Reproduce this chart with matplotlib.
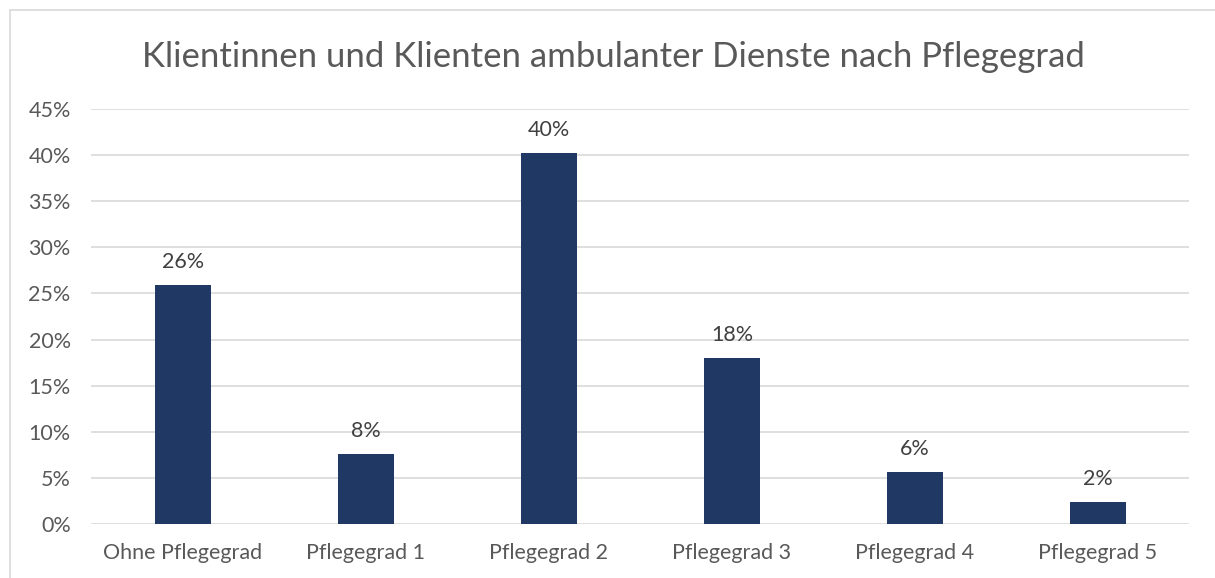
import matplotlib.pyplot as plt
import numpy as np
from matplotlib.patches import Rectangle
from matplotlib.ticker import PercentFormatter

# Daten
kategorien = ['Ohne Pflegegrad', 'Pflegegrad 1', 'Pflegegrad 2', 'Pflegegrad 3', 'Pflegegrad 4', 'Pflegegrad 5']
anteile = [0.259, 0.076, 0.402, 0.180, 0.056, 0.024]
titel = 'Klientinnen und Klienten ambulanter Dienste nach Pflegegrad'

plt.rcParams['font.family'] = ['Lato', 'DejaVu Sans']
grau = '#595959'

fig = plt.figure(figsize=(12.15, 5.78), dpi=100)
ax = fig.add_axes([0.0753, 0.0934, 0.9037, 0.718])

# Rahmen um das Diagramm
fig.patches.append(Rectangle((10 / 1215, -0.05), 1.1, (568 / 578) + 0.05,
                             transform=fig.transFigure, fill=False,
                             edgecolor='#d9d9d9', linewidth=1.2))

x = np.arange(len(kategorien))
bars = ax.bar(x, anteile, width=0.31, color='#203864', zorder=3)
for b, v in zip(bars, anteile):
    ax.text(b.get_x() + b.get_width() / 2, v + 0.014, f'{v:.0%}',
            ha='center', va='bottom', fontsize=15.5, color='#404040')

ax.set_xlim(-0.5, len(kategorien) - 0.5)
ax.set_ylim(0, 0.45)
ax.set_yticks(np.arange(0, 0.451, 0.05))
ax.yaxis.set_major_formatter(PercentFormatter(1.0, decimals=0))
ax.set_xticks(x)
ax.set_xticklabels(kategorien)
ax.grid(axis='y', color='#d9d9d9', linewidth=1.2, zorder=0)
for s in ax.spines.values():
    s.set_visible(False)
ax.tick_params(length=0, labelsize=15.5, colors=grau)
ax.tick_params(axis='x', pad=14)
ax.tick_params(axis='y', pad=15)

fig.text(613 / 1215, 1 - 57 / 578, titel, ha='center', va='center', fontsize=25, color=grau)

fig.savefig('out.png', dpi=100)
